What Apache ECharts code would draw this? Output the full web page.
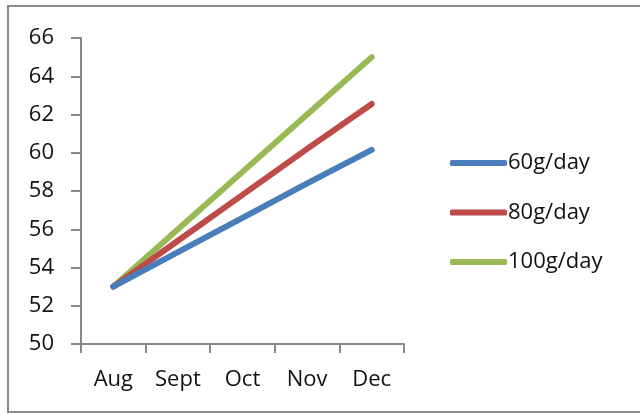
<!DOCTYPE html>
<html>
<head>
<meta charset="utf-8">
<script src="https://cdn.jsdelivr.net/npm/echarts@6/dist/echarts.min.js"></script>
<style>html,body{margin:0;padding:0;background:#fff;}#c{width:640px;height:414px;}</style>
</head>
<body>
<div id="c"></div>
<script>
const categories = ['Aug', 'Sept', 'Oct', 'Nov', 'Dec'];
const seriesNames = ['60g/day', '80g/day', '100g/day'];
const s60 = [53, 54.8, 56.6, 58.4, 60.15];
const s80 = [53, 55.4, 57.8, 60.2, 62.55];
const s100 = [53, 56, 59, 62, 65];
const yTicks = { min: 50, max: 66, interval: 2 };
const colors = ['#4A7EBB', '#BE4B48', '#98B954'];

const chart = echarts.init(document.getElementById('c'), null, { renderer: 'canvas' });
const font = '"Open Sans", "Noto Sans", sans-serif';
const axisColor = '#878787';
const values = [s60, s80, s100];
chart.setOption({
  animation: false,
  backgroundColor: '#fff',
  graphic: [{
    type: 'rect', z: -10,
    shape: { x: 8, y: 6, width: 700, height: 406 },
    style: { fill: 'none', stroke: '#8a8a8a', lineWidth: 2 }
  }],
  grid: { left: 81, right: 236, top: 38, bottom: 70 },
  legend: {
    orient: 'vertical',
    left: 445, top: 146,
    itemWidth: 57, itemHeight: 6, itemGap: 25.5,
    icon: 'roundRect',
    textStyle: { fontFamily: font, fontSize: 22, color: '#111', lineHeight: 24, padding: [0, 0, 0, -4] },
    data: seriesNames
  },
  xAxis: {
    type: 'category',
    data: categories,
    boundaryGap: true,
    axisLine: { lineStyle: { color: axisColor, width: 2 } },
    axisTick: { show: true, length: 9, lineStyle: { color: axisColor, width: 2 } },
    axisLabel: { margin: 25, fontFamily: font, fontSize: 22, color: '#111' }
  },
  yAxis: {
    type: 'value',
    min: yTicks.min, max: yTicks.max, interval: yTicks.interval,
    splitLine: { show: false },
    axisLine: { show: true, lineStyle: { color: axisColor, width: 2 } },
    axisTick: { show: true, length: 10, lineStyle: { color: axisColor, width: 2 } },
    axisLabel: { margin: 27, fontFamily: font, fontSize: 22, color: '#111' }
  },
  series: seriesNames.map((n, i) => ({
    name: n,
    type: 'line',
    data: values[i],
    symbol: 'none',
    z: 2 + (2 - i),
    lineStyle: { color: colors[i], width: 6, cap: 'round', join: 'round' },
    itemStyle: { color: colors[i] }
  }))
});
</script>
</body>
</html>
